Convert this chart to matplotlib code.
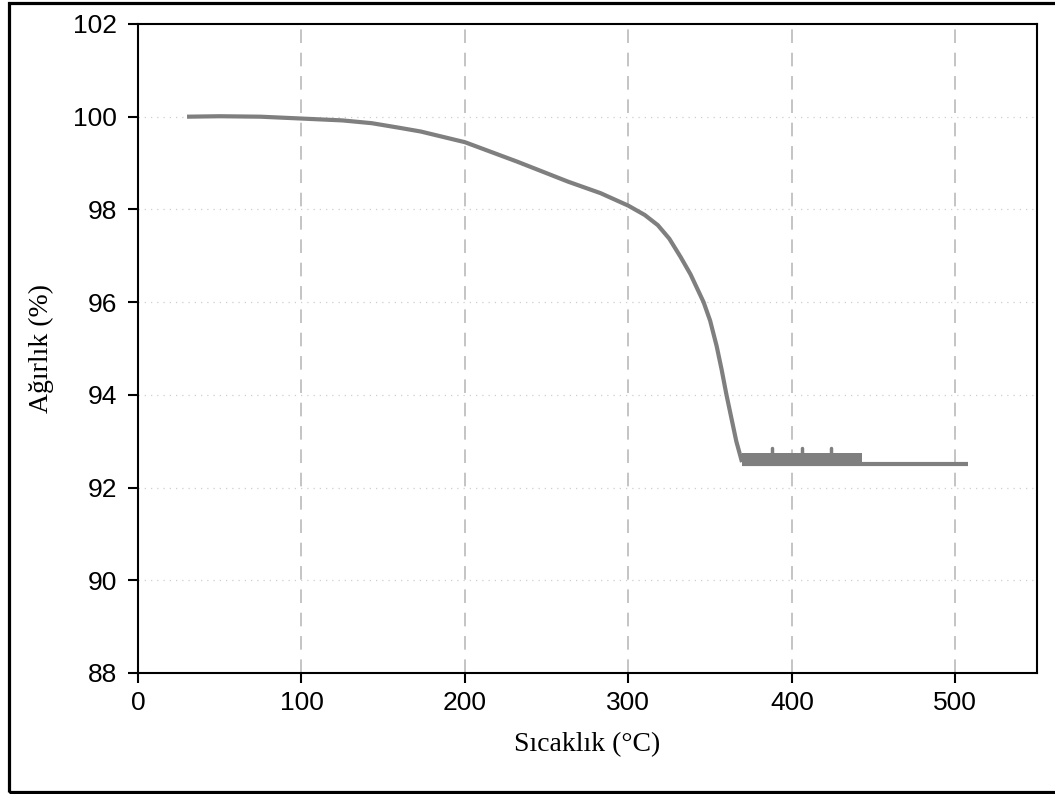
import matplotlib
matplotlib.use("Agg")
import matplotlib.pyplot as plt
from matplotlib.patches import Rectangle

# --- data ---
temp = [30, 50, 75, 100, 125, 143, 160, 173, 200, 232, 263, 283, 300, 310,
        318, 325, 332, 338, 342, 346, 350, 354, 357, 360, 363, 366, 369.5]
weight = [100.0, 100.01, 100.0, 99.96, 99.92, 99.86, 99.76, 99.68, 99.45,
          99.03, 98.6, 98.35, 98.08, 97.88, 97.66, 97.37, 96.97, 96.6,
          96.3, 96.0, 95.6, 95.05, 94.55, 94.0, 93.5, 93.0, 92.55]
plateau_x = [369.5, 508]
plateau_y = [92.5, 92.5]
band_x = [369.5, 443]
band_lo = [92.5, 92.5]
band_hi = [92.74, 92.74]
spike_x = [387.6, 405.9, 424.2]
spike_top = [92.85, 92.85, 92.85]

xticks = [0, 100, 200, 300, 400, 500]
yticks = [88, 90, 92, 94, 96, 98, 100, 102]

col = "#7f7f7f"

fig = plt.figure(figsize=(10.55, 7.94), dpi=100)
ax = fig.add_axes([0.1308, 0.1524, 0.983 - 0.1308, 0.9698 - 0.1524])

ax.plot(temp, weight, color=col, lw=3.0, solid_capstyle="butt",
        solid_joinstyle="round", zorder=3)
ax.plot(plateau_x, plateau_y, color=col, lw=3.0, solid_capstyle="butt", zorder=3)
ax.fill_between(band_x, band_lo, band_hi, color=col, lw=0, zorder=3)
for sx, st in zip(spike_x, spike_top):
    ax.plot([sx, sx], [band_hi[0], st], color=col, lw=2.5,
            solid_capstyle="round", zorder=3)

ax.set_xlim(0, 550)
ax.set_ylim(88, 102)
ax.set_xticks(xticks)
ax.set_yticks(yticks)

for x in xticks[1:]:
    ax.axvline(x, color="#c4c4c4", lw=1.4, ls=(0, (7, 5)), zorder=1)
for y in yticks[1:-1]:
    ax.axhline(y, color="#cfcfcf", lw=0.9, ls=(0, (1, 4)), zorder=1)

for s in ax.spines.values():
    s.set_linewidth(1.5)
    s.set_color("black")

ax.tick_params(axis="both", direction="out", length=7, width=1.5,
               labelsize=19, colors="black")
ax.tick_params(axis="x", pad=6)
ax.tick_params(axis="y", pad=8)
for lab in ax.get_xticklabels() + ax.get_yticklabels():
    lab.set_fontfamily("Liberation Sans")

ax.set_xlabel("Sıcaklık (°C)", fontsize=20, family="Liberation Serif", labelpad=12)
ax.set_ylabel("Ağırlık (%)", fontsize=20, family="Liberation Serif", labelpad=14)

fig.patches.append(Rectangle((9 / 1055, 2 / 794), 1.02, 1 - 5 / 794,
                             transform=fig.transFigure, fill=False,
                             edgecolor="black", lw=2.3, clip_on=False))

fig.savefig("out.png", dpi=100)
